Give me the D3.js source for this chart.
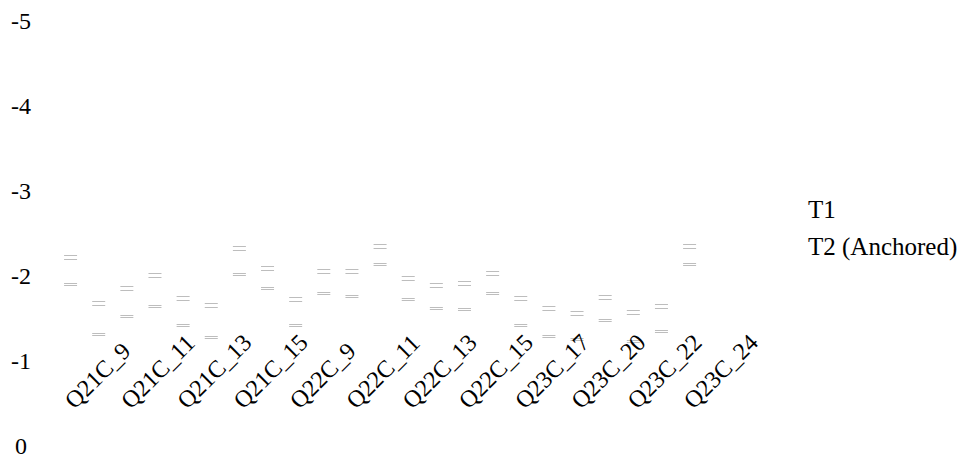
<!DOCTYPE html>
<html>
<head>
<meta charset="utf-8">
<script src="https://cdn.jsdelivr.net/npm/d3@7/dist/d3.min.js"></script>
<style>
    body { margin: 0; background: #fff; }
</style>
</head>
<body>
<svg id="chart" width="960" height="460"></svg>
<script>
const categories = ["Q21C_9", "Q21C_11", "Q21C_13", "Q21C_15", "Q22C_9", "Q22C_11",
    "Q22C_13", "Q22C_15", "Q23C_17", "Q23C_20", "Q23C_22", "Q23C_24"];
const seriesNames = ["T1", "T2 (Anchored)"];
const yTicks = [0, -1, -2, -3, -4, -5];

// upper / lower cap of each interval
const t1High = [-2.22, -1.86, -1.74, -2.33, -1.73, -2.06, -1.98, -1.92, -1.74, -1.56, -1.58, -2.35];
const t1Low = [-1.91, -1.53, -1.42, -2.02, -1.42, -1.77, -1.73, -1.61, -1.42, -1.26, -1.24, -2.14];
const t2High = [-1.68, -2.01, -1.66, -2.09, -2.06, -2.35, -1.89, -2.04, -1.62, -1.75, -1.65, null];
const t2Low = [-1.32, -1.65, -1.28, -1.86, -1.80, -2.14, -1.62, -1.80, -1.30, -1.48, -1.35, null];

const fontFam = "Liberation Serif";

const svg = d3.select("#chart");

const x0 = d3.scaleBand()
    .domain(categories)
    .range([56.5, 731.8]);

const x1 = d3.scaleBand()
    .domain(seriesNames)
    .range([0, x0.bandwidth()]);

const y = d3.scaleLinear()
    .domain([0, -5])
    .range([446, 21]);

const rows = [];
categories.forEach((c, i) => {
    rows.push({ cat: c, series: seriesNames[0], hi: t1High[i], lo: t1Low[i] });
    rows.push({ cat: c, series: seriesNames[1], hi: t2High[i], lo: t2Low[i] });
});
const marks = rows.filter(d => d.hi !== null);

const capW = 13;
const capColor = "#bdbdbd";

function doubleCap(sel, key, gap) {
    [-gap / 2, gap / 2].forEach(off => {
        sel.append("line")
            .attr("x1", d => x0(d.cat) + x1(d.series) + x1.bandwidth() / 2 - capW / 2)
            .attr("x2", d => x0(d.cat) + x1(d.series) + x1.bandwidth() / 2 + capW / 2)
            .attr("y1", d => Math.round(y(d[key]) + off) + 0.5)
            .attr("y2", d => Math.round(y(d[key]) + off) + 0.5)
            .attr("stroke", capColor)
            .attr("stroke-width", 1);
    });
}

// marks first, text on top
const capG = svg.append("g")
    .selectAll("g.cap")
    .data(marks)
    .enter()
    .append("g")
    .attr("class", "cap");

doubleCap(capG, "hi", 4);
doubleCap(capG, "lo", 2);

yTicks.forEach(t => {
    svg.append("text")
        .attr("x", 21)
        .attr("y", y(t) + 8)
        .attr("text-anchor", "middle")
        .attr("font-size", 24)
        .style("font-family", fontFam)
        .text(t);
});

categories.forEach(c => {
    svg.append("text")
        .attr("transform", `translate(${x0(c) + 18}, 410) rotate(-45)`)
        .attr("font-size", 24)
        .style("font-family", fontFam)
        .text(c);
});

seriesNames.forEach((s, i) => {
    svg.append("text")
        .attr("x", 808)
        .attr("y", 218 + i * 37)
        .attr("font-size", 25)
        .style("font-family", fontFam)
        .text(s);
});
</script>
</body>
</html>
